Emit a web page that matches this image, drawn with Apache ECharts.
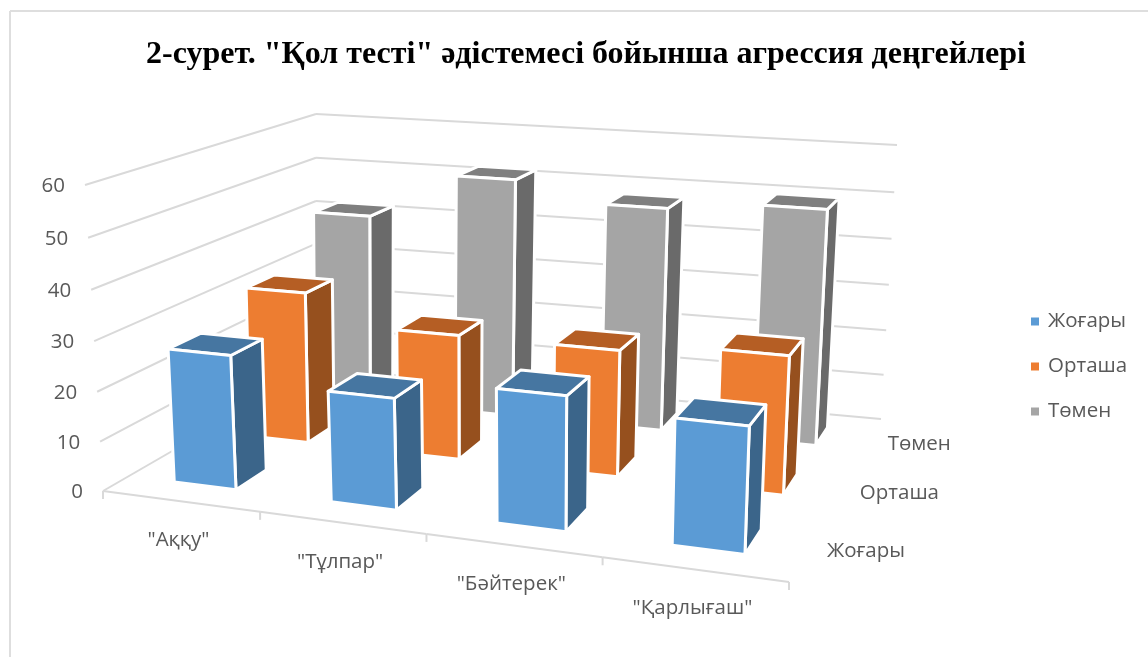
<!DOCTYPE html>
<html><head><meta charset="utf-8">
<style>html,body{margin:0;padding:0;background:#fff}#c{width:1148px;height:657px}</style>
<script src="https://cdn.jsdelivr.net/npm/echarts@6/dist/echarts.min.js"></script>
</head><body><div id="c"></div>
<script>
const titleText = '2-сурет. "Қол тесті" әдістемесі бойынша агрессия деңгейлері';
const categories = ['"Аққу"', '"Тұлпар"', '"Бәйтерек"', '"Қарлығаш"'];
const seriesNames = ['Жоғары', 'Орташа', 'Төмен'];
const high = [27, 22, 26, 24];
const middle = [32, 26, 26, 28];
const low = [42, 52, 48, 50];
const valueTicks = [0, 10, 20, 30, 40, 50, 60];

const frontColors = ['#5B9BD5', '#ED7D31', '#A5A5A5'];
const sideColors = ['#3B658A', '#96501E', '#6A6A6A'];
const topColors = ['#4676A1', '#B55E24', '#7F7F7F'];
const FONT = '"Open Sans", "Noto Sans", sans-serif';
const LABEL = '#595959', GRIDC = '#D9D9D9';

// Projection of the 3D box (calibrated to the picture frame)
function quad(p0, p1, p2, p3) {
  const dx1 = p1[0]-p2[0], dx2 = p3[0]-p2[0], dx3 = p0[0]-p1[0]+p2[0]-p3[0];
  const dy1 = p1[1]-p2[1], dy2 = p3[1]-p2[1], dy3 = p0[1]-p1[1]+p2[1]-p3[1];
  const den = dx1*dy2-dx2*dy1;
  const g = (dx3*dy2-dx2*dy3)/den, h = (dx1*dy3-dx3*dy1)/den;
  const a = p1[0]-p0[0]+g*p1[0], b = p3[0]-p0[0]+h*p3[0];
  const d = p1[1]-p0[1]+g*p1[1], e = p3[1]-p0[1]+h*p3[1];
  return (u, v) => { const w = g*u+h*v+1; return [(a*u+b*v+p0[0])/w, (d*u+e*v+p0[1])/w]; };
}
const floorMap = quad([103,491],[789,582],[881,419],[316,368]);
const ceilMap = quad([85,185],[803,242],[897,145],[316,114]);
const warpX = x => x + 0.072*x*(1-x);
const warpZ = z => z*0.96/(1-0.04*z);
function project(x, y, z) {
  const u = warpX(x), t = warpZ(z);
  const f = floorMap(u, y), c = ceilMap(u, y);
  return [f[0]+(c[0]-f[0])*t, f[1]+(c[1]-f[1])*t];
}
// Normalise a value / category through the chart's hidden axes
function heightOf(api, v) {
  const y0 = api.coord([0, 0])[1], y1 = api.coord([0, 60])[1];
  return (y0-api.coord([0, v])[1])/(y0-y1);
}
function cellLeft(api, i) {
  const band = api.size([1, 0])[0];
  return (api.coord([i, 0])[0]-band/2)/(band*categories.length);
}

function barItem(row) {
  return function (params, api) {
    const i = api.value(0), v = api.value(1);
    const cw = 1/categories.length, rw = 1/seriesNames.length;
    const x0 = cellLeft(api, i)+cw*0.3, x1 = cellLeft(api, i)+cw*0.7;
    const y0 = (row+0.3)*rw, y1 = (row+0.7)*rw;
    const z = heightOf(api, v);
    const P = (x, y, h) => project(x, y, h);
    const st = c => ({fill: c, stroke: '#fff', lineWidth: 3, lineJoin: 'round'});
    const poly = (pts, c) => ({type: 'polygon', shape: {points: pts}, style: st(c)});
    return {type: 'group', children: [
      poly([P(x1,y0,0),P(x1,y1,0),P(x1,y1,z),P(x1,y0,z)], sideColors[row]),
      poly([P(x0,y0,z),P(x1,y0,z),P(x1,y1,z),P(x0,y1,z)], topColors[row]),
      poly([P(x0,y0,0),P(x1,y0,0),P(x1,y0,z),P(x0,y0,z)], frontColors[row])
    ]};
  };
}
const line = (a, b) => ({type: 'line', shape: {x1:a[0],y1:a[1],x2:b[0],y2:b[1]}, style: {stroke: GRIDC, lineWidth: 2}});
const text = (s, x, y, align) => ({type: 'text', style: {text: s, x, y, align, verticalAlign: 'middle', fill: LABEL, font: '20.5px '+FONT}});

function wallItem(params, api) {
  const v = api.value(1), z = heightOf(api, v);
  const a = project(0,0,z), b = project(0,1,z), c = project(1,1,z);
  return {type: 'group', children: [line(a,b), line(b,c), text(String(v), a[0]-20, a[1]+1, 'right')]};
}
function catItem(params, api) {
  const i = api.value(0), cw = 1/categories.length, l = cellLeft(api, i);
  const e0 = project(l,0,0), e1 = project(l+cw,0,0), m = project(l+cw/2,0,0);
  const kids = [line(e0,e1), line(e1,[e1[0],e1[1]+8]), text(categories[i], m[0]-2, m[1]+39, 'center')];
  if (i === 0) kids.push(line(e0,[e0[0],e0[1]+8]));
  return {type:'group', children: kids};
}
function rowItem(params, api) {
  const r = params.dataIndex;
  const p = project(1,(r+0.5)/seriesNames.length,0);
  return text(seriesNames[r], p[0]+19, p[1]+3, 'left');
}

const chart = echarts.init(document.getElementById('c'), null, {renderer: 'canvas'});
const rowsData = [high, middle, low];
chart.setOption({
  animation: false,
  backgroundColor: '#fff',
  graphic: [
    {type:'line', z: 0, shape:{x1:10,y1:11,x2:1148,y2:11}, style:{stroke:'#DEDEDE', lineWidth:2}},
    {type:'line', z: 0, shape:{x1:10,y1:11,x2:10,y2:657}, style:{stroke:'#DEDEDE', lineWidth:2}}
  ],
  title: {text: titleText, left: 141, top: 34,
    textStyle: {fontFamily: '"Liberation Serif", serif', fontWeight: 'bold', fontSize: 32, color: '#000'}},
  grid: {left: 0, right: 0, top: 0, bottom: 0, show: false},
  xAxis: {type: 'category', data: categories, show: false},
  yAxis: {type: 'value', min: 0, max: 60, interval: 10, show: false},
  legend: {data: seriesNames, orient: 'vertical', left: 1031, top: 311, padding: 0, itemWidth: 8, itemHeight: 8, itemGap: 24, icon: 'rect',
    textStyle: {fontFamily: FONT, fontSize: 20.5, color: LABEL, padding: [0,0,0,4]}, itemStyle: {borderWidth: 0}},
  series: [
    ...seriesNames.map((n, r) => ({
      type: 'custom', name: n, z: 10-r, clip: false, silent: true,
      itemStyle: {color: frontColors[r]},
      encode: {x: 0, y: 1},
      data: rowsData[r].map((v, i) => [i, v]),
      renderItem: barItem(r)
    })),
    {type:'custom', name:'walls', z:1, silent:true, clip:false, encode:{x:0,y:1}, data: valueTicks.map(v=>[0,v]), renderItem: wallItem},
    {type:'custom', name:'categories', z:2, silent:true, clip:false, encode:{x:0,y:1}, data: categories.map((c,i)=>[i,0]), renderItem: catItem},
    {type:'custom', name:'rows', z:2, silent:true, clip:false, encode:{x:0,y:1}, data: seriesNames.map(()=>[3,0]), renderItem: rowItem}
  ]
});
</script></body></html>
